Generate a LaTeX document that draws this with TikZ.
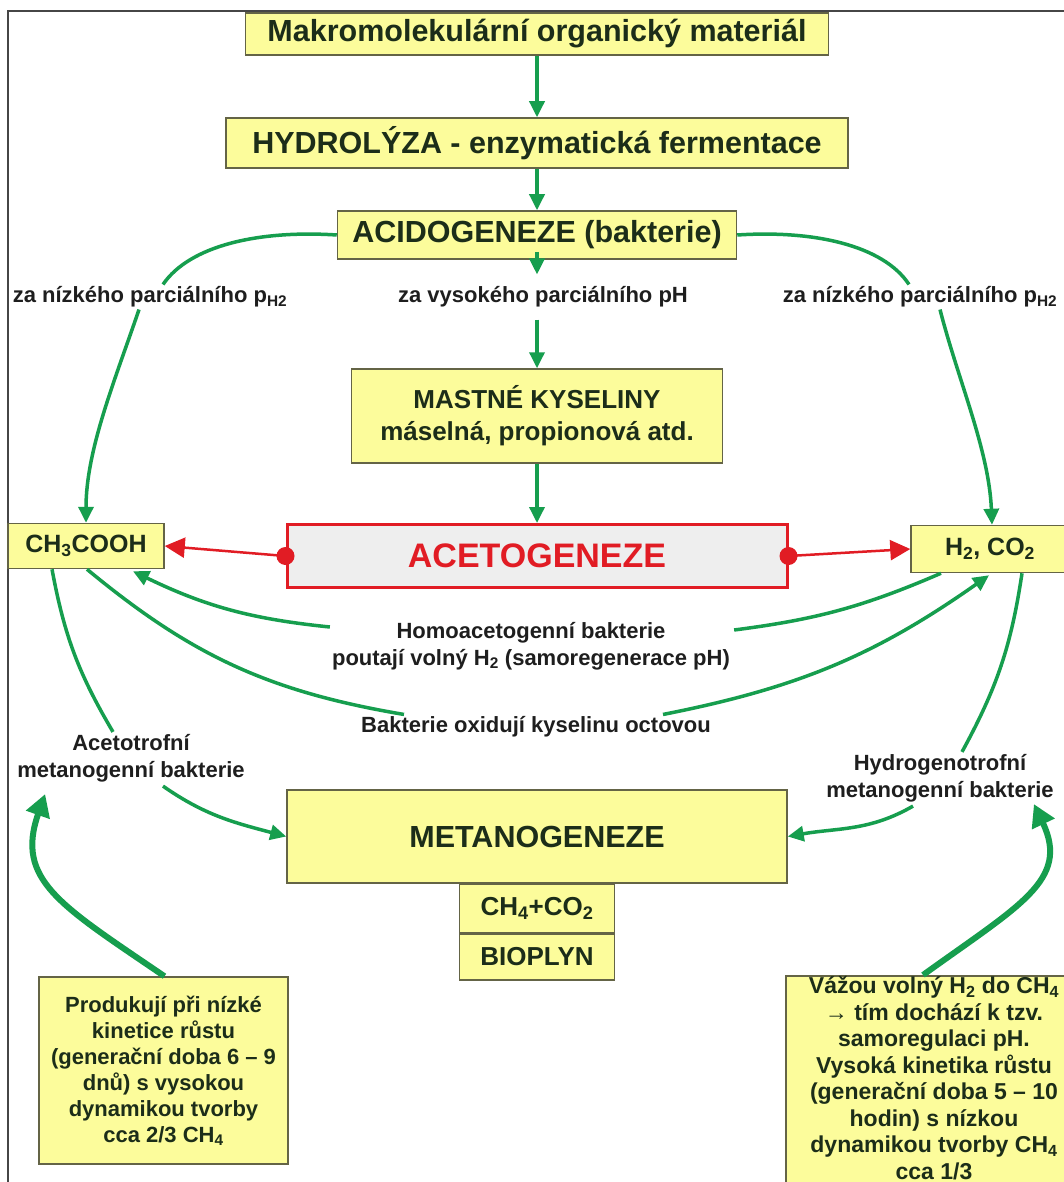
\documentclass[tikz,border=0pt]{standalone}
\usepackage{fontspec}
\setmainfont{Liberation Sans}
\usetikzlibrary{arrows.meta,calc}

\definecolor{boxfill}{RGB}{252,252,155}
\definecolor{boxline}{RGB}{100,100,70}
\definecolor{boxtext}{RGB}{28,45,25}
\definecolor{lbltext}{RGB}{30,30,30}
\definecolor{flowgreen}{RGB}{22,158,78}
\definecolor{redline}{RGB}{225,28,36}
\definecolor{acetofill}{RGB}{238,238,238}
\definecolor{framegray}{RGB}{70,70,70}

\newcommand{\bsize}[2]{\bfseries\fontsize{#1}{#2}\selectfont}

\begin{document}
\begin{tikzpicture}[x=1pt,y=-1pt,
    box/.style={draw=boxline, line width=1.5pt, fill=boxfill, text=boxtext, align=center, inner sep=2pt},
    lbl/.style={text=lbltext, font=\bsize{22}{27}, align=center, inner sep=2pt},
    flowline/.style={draw=flowgreen, line width=3.5pt},
    flow/.style={flowline, -{Triangle[length=16pt,width=15pt]}},
    bigflow/.style={draw=flowgreen, line width=6pt, -{Triangle[length=22pt,width=24pt]}},
    redflow/.style={draw=redline, line width=2.5pt, -{Triangle[length=20pt,width=20pt]}}]

\useasboundingbox (0,0) rectangle (1064,1182);
\clip (0,0) rectangle (1064,1182);
\fill[white] (0,0) rectangle (1064,1182);
\draw[framegray, line width=1.5pt] (8,1182) -- (8,11) -- (1064,11);

% upper chain
\node[box, minimum width=583pt, minimum height=42pt, font=\bsize{30.5}{36}] (makro) at (537,34) {Makromolekulární organický materiál};
\node[box, minimum width=622pt, minimum height=50pt, font=\bsize{30.5}{36}] (hydro) at (537,143) {HYDROLÝZA - enzymatická fermentace};
\node[box, minimum width=399pt, minimum height=48pt, font=\bsize{30.5}{36}] (acido) at (537,235) {ACIDOGENEZE (bakterie)};

\node[lbl] (lowL) at (150,297) {za nízkého parciálního p\textsubscript{H2}};
\node[lbl] (high) at (543,297) {za vysokého parciálního pH};
\node[lbl] (lowR) at (920,297) {za nízkého parciálního p\textsubscript{H2}};

\node[box, minimum width=371pt, minimum height=94pt, font=\bsize{26}{32}] (mastne) at (537,416) {MASTNÉ KYSELINY\\máselná, propionová atd.};

% acetogeneze row
\node[box, draw=redline, line width=3pt, fill=acetofill, text=redline, minimum width=500pt, minimum height=63pt, font=\bsize{34}{40}] (aceto) at (537,556) {ACETOGENEZE};
\node[box, minimum width=156pt, minimum height=45pt, font=\bsize{25}{30}] (ch3) at (86,546) {CH\textsubscript{3}COOH};
\node[box, minimum width=158pt, minimum height=47pt, font=\bsize{25}{30}] (h2co2) at (990,549) {H\textsubscript{2}, CO\textsubscript{2}};

\node[lbl] (homo) at (531,646) {Homoacetogenní bakterie\\poutají volný H\textsubscript{2} (samoregenerace pH)};
\node[lbl] (oxid) at (536,727) {Bakterie oxidují kyselinu octovou};
\node[lbl] (acetr) at (131,758) {Acetotrofní\\metanogenní bakterie};
\node[lbl] (hydr) at (940,778) {Hydrogenotrofní\\metanogenní bakterie};

% metanogeneze
\node[box, minimum width=500pt, minimum height=93pt, font=\bsize{30.5}{36}] (metan) at (537,836.5) {METANOGENEZE};
\node[box, minimum width=155pt, minimum height=48pt, font=\bsize{26}{30}, anchor=north] (gas) at (metan.south) {CH\textsubscript{4}+CO\textsubscript{2}};
\node[box, minimum width=155pt, minimum height=46pt, font=\bsize{26}{30}, anchor=north] (bio) at (gas.south) {BIOPLYN};

\node[box, minimum width=249pt, minimum height=187pt, font=\bsize{22}{26}] (prod) at (163.5,1070.5) {Produkují při nízké\\kinetice růstu\\(generační doba 6 – 9\\dnů) s vysokou\\dynamikou tvorby\\cca 2/3 CH\textsubscript{4}};
\node[box, minimum width=296pt, inner ysep=1pt, text depth=25pt, font=\bsize{23}{26.5}, anchor=north] (vaz) at (934,975) {Vážou volný H\textsubscript{2} do CH\textsubscript{4}\\→ tím dochází k tzv.\\samoregulaci pH.\\Vysoká kinetika růstu\\(generační doba 5 – 10\\hodin) s nízkou\\dynamikou tvorby CH\textsubscript{4}\\cca 1/3};

% connectors
\draw[flow] (makro) -- (hydro);
\draw[flow] (hydro) -- (acido);
\draw[flow] ($(acido.south)+(0,-8)$) -- ($(acido.south |- high.north)+(0,-10)$);
\draw[flow] ($(mastne.north |- high.south)+(0,10)$) -- (mastne);
\draw[flow] (mastne) -- (aceto);

\draw[flowline] (acido.west) .. controls (260,230) and (190,245) .. ($(lowL.north)+(13,0)$);
\draw[flow] ($(lowL.south)+(-11,0)$) .. controls (115,380) and (86,450) .. (ch3.north);
\draw[flowline] (acido.east) .. controls (813,230) and (883,245) .. ($(lowR.north)+(-11,0)$);
\draw[flow] ($(lowR.south)+(20,0)$) .. controls (958,380) and (989,450) .. ($(h2co2.north)+(2,0)$);

\draw[redflow] (aceto.west) -- (ch3.east);
\draw[redflow] (aceto.east) -- (h2co2.west);
\fill[redline] (aceto.west) circle (9pt);
\fill[redline] (aceto.east) circle (9pt);

\draw[flow] ($(homo.west)+(0,-19)$) to[bend left=10] ($(ch3.south)+(47,2)$);
\draw[flowline] ($(h2co2.south)+(-49,0)$) to[bend left=8] ($(homo.east)+(2,-16)$);
\draw[flowline] ($(ch3.south)+(1,0)$) to[bend right=15] ($(oxid.north west)+(45,0)$);
\draw[flow] ($(oxid.north east)+(-50,0)$) to[bend right=12] ($(h2co2.south)+(-1,2)$);

\draw[flowline] ($(ch3.south)+(-34,0)$) to[bend right=10] ($(acetr.north)+(-18,0)$);
\draw[flow] ($(acetr.south)+(32,2)$) to[out=-35,in=165] (metan.west);
\draw[flowline] ($(h2co2.south)+(32,0)$) to[bend left=10] ($(hydr.north)+(22,0)$);
\draw[flow] ($(hydr.south)+(-27,2)$) to[out=-150,in=10] (metan.east);

\draw[bigflow] ($(prod.north)+(1,0)$) .. controls (60,905) and (15,880) .. ($(acetr.south west)+(30,10)$);
\draw[bigflow] ($(vaz.north)+(-11,0)$) .. controls (1020,905) and (1070,880) .. ($(hydr.south east)+(-22,0)$);
\end{tikzpicture}
\end{document}
